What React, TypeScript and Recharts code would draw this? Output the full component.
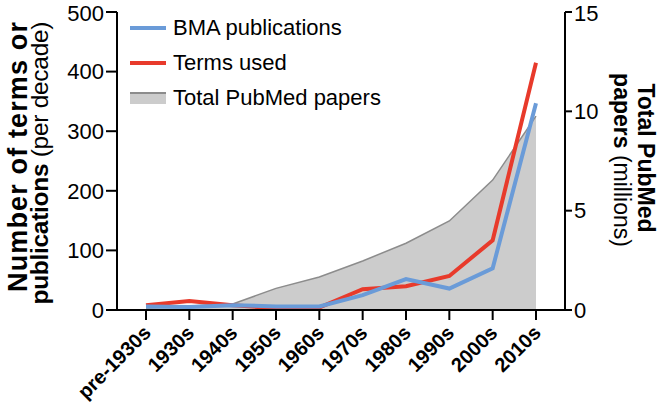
import React from 'react';
import { ComposedChart, Area, Line, XAxis, YAxis } from 'recharts';

const decades = ['pre-1930s', '1930s', '1940s', '1950s', '1960s', '1970s', '1980s', '1990s', '2000s', '2010s'];
const bmaPublications = [6, 5, 8, 6, 6, 25, 52, 36, 70, 347];
const termsUsed = [8, 15, 8, 3, 4, 35, 40, 57, 117, 415];
const pubmedMillions = [0.1, 0.2, 0.3, 1.09, 1.66, 2.47, 3.36, 4.48, 6.54, 9.76];

const leftTicks = [0, 100, 200, 300, 400, 500];
const rightTicks = [0, 5, 10, 15];

const FONT = '"Liberation Sans", Arial, Helvetica, sans-serif';
const BLUE = '#6a9bd8';
const RED = '#e83a2b';
const GREY_FILL = '#cccccc';
const GREY_LINE = '#8c8c8c';

const data = decades.map((d, i) => ({
  decade: d,
  bma: bmaPublications[i],
  terms: termsUsed[i],
  pubmed: pubmedMillions[i],
}));

const XTick = ({ x, y, payload }: any) => (
  <text
    x={x + 6}
    y={y + 12}
    transform={`rotate(-45, ${x + 6}, ${y + 12})`}
    textAnchor="end"
    fontFamily={FONT}
    fontWeight="bold"
    fontSize={20}
    fill="#000"
  >
    {payload.value}
  </text>
);

const LeftTitle = () => (
  <g fontFamily={FONT} fill="#000">
    <text
      transform="translate(27, 157) rotate(-90)"
      textAnchor="middle"
      fontWeight="bold"
      fontSize={27}
      textLength={270}
      lengthAdjust="spacing"
    >
      Number of terms or
    </text>
    <text
      transform="translate(48, 163) rotate(-90)"
      textAnchor="middle"
      fontSize={24.5}
      textLength={283}
      lengthAdjust="spacing"
    >
      <tspan fontWeight="bold">publications</tspan>
      <tspan> (per decade)</tspan>
    </text>
  </g>
);

const RightTitle = () => (
  <g fontFamily={FONT} fontSize={23} fill="#000">
    <text transform="translate(638, 158) rotate(90)" textAnchor="middle" fontWeight="bold">
      Total PubMed
    </text>
    <text transform="translate(614, 160) rotate(90)" textAnchor="middle">
      <tspan fontWeight="bold">papers</tspan>
      <tspan> (millions)</tspan>
    </text>
  </g>
);

const LegendBox = () => {
  const rows = [
    { label: 'BMA publications', kind: 'line', color: BLUE },
    { label: 'Terms used', kind: 'line', color: RED },
    { label: 'Total PubMed papers', kind: 'area', color: GREY_FILL },
  ];
  return (
    <div style={{ position: 'absolute', left: 130, top: 10, fontFamily: FONT, fontSize: 22, color: '#000' }}>
      {rows.map((r) => (
        <div key={r.label} style={{ display: 'flex', alignItems: 'center', height: 35 }}>
          <svg width={36} height={16} style={{ marginRight: 7 }}>
            {r.kind === 'line' ? (
              <line x1={0} y1={8} x2={36} y2={8} stroke={r.color} strokeWidth={4} />
            ) : (
              <g>
                <rect x={0} y={2} width={36} height={12} fill={GREY_FILL} />
                <line x1={0} y1={3} x2={36} y2={3} stroke={GREY_LINE} strokeWidth={2} />
              </g>
            )}
          </svg>
          <span>{r.label}</span>
        </div>
      ))}
    </div>
  );
};

export default function App() {
  return (
    <div style={{ position: 'absolute', left: 0, top: 0, width: 661, height: 420, background: '#fff' }}>
      <ComposedChart width={661} height={420} data={data} margin={{ top: 12, right: 0, bottom: 0, left: 0 }}>
        <XAxis
          dataKey="decade"
          scale="point"
          padding={{ left: 29, right: 29 }}
          height={110}
          interval={0}
          tick={<XTick />}
          tickSize={10}
          axisLine={{ stroke: '#000', strokeWidth: 2 }}
          tickLine={{ stroke: '#000', strokeWidth: 2 }}
        />
        <YAxis
          yAxisId="left"
          width={117}
          domain={[0, 500]}
          ticks={leftTicks}
          tickSize={11}
          tick={{ fontFamily: FONT, fontSize: 22, fill: '#000' }}
          axisLine={{ stroke: '#000', strokeWidth: 2 }}
          tickLine={{ stroke: '#000', strokeWidth: 2 }}
          label={{ content: () => <LeftTitle /> }}
        />
        <YAxis
          yAxisId="right"
          orientation="right"
          width={96}
          domain={[0, 15]}
          ticks={rightTicks}
          tickSize={7}
          tick={{ fontFamily: FONT, fontSize: 22, fill: '#000', textAnchor: 'start' }}
          axisLine={{ stroke: '#000', strokeWidth: 2 }}
          tickLine={{ stroke: '#000', strokeWidth: 2 }}
          label={{ content: () => <RightTitle /> }}
        />
        <Area
          yAxisId="right"
          type="linear"
          dataKey="pubmed"
          fill={GREY_FILL}
          fillOpacity={1}
          stroke={GREY_LINE}
          strokeWidth={1.5}
          isAnimationActive={false}
        />
        <Line
          yAxisId="left"
          type="linear"
          dataKey="terms"
          stroke={RED}
          strokeWidth={4}
          dot={false}
          isAnimationActive={false}
        />
        <Line
          yAxisId="left"
          type="linear"
          dataKey="bma"
          stroke={BLUE}
          strokeWidth={4}
          dot={false}
          isAnimationActive={false}
        />
      </ComposedChart>
      <LegendBox />
    </div>
  );
}
